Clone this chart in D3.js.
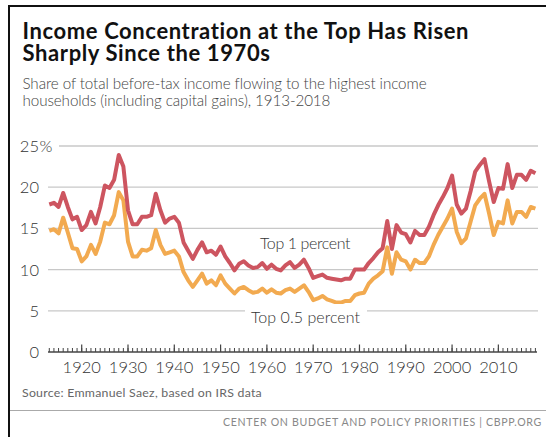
<!DOCTYPE html>
<html><head><meta charset="utf-8">
<script src="https://cdn.jsdelivr.net/npm/d3@7"></script>
<style>
html,body{margin:0;padding:0;background:#fff;}
svg{display:block;}
</style></head>
<body>
<script>
const years = d3.range(1913, 2019);
const top1 = [17.9,18.1,17.6,19.3,17.6,16.1,16.4,14.8,15.4,17.0,15.6,17.6,20.2,19.9,20.9,23.9,22.5,
  17.2,15.5,15.5,16.4,16.4,16.6,19.2,17.2,15.7,16.2,
  16.4,15.7,13.3,12.3,11.3,12.4,13.3,12.1,12.3,11.8,
  12.8,11.6,10.8,9.9,10.7,11.0,10.5,10.2,10.3,10.8,
  10.1,10.6,10.1,9.9,10.5,10.9,10.2,10.6,11.2,10.2,
  9.0,9.2,9.4,9.0,8.9,8.8,8.7,8.9,8.9,10.0,
  10.0,10.0,10.8,11.4,12.1,12.6,15.9,12.5,15.4,14.5,
  14.3,13.3,14.7,14.2,14.2,15.2,16.6,17.8,18.8,19.9,
  21.4,17.9,16.8,17.4,19.5,21.9,22.7,23.4,20.7,18.2,
  19.9,19.8,22.8,19.9,21.5,21.5,20.9,22.0,21.7];
const top05 = [14.7,14.9,14.4,16.3,14.5,12.6,12.5,11.0,11.6,13.0,11.9,13.4,15.7,15.5,16.6,19.4,18.4,
  13.4,11.6,11.6,12.4,12.3,12.6,14.8,13.0,11.9,12.1,
  12.3,11.6,9.7,8.7,7.9,8.7,9.5,8.3,8.7,8.1,
  9.3,8.3,7.7,7.1,7.7,7.9,7.5,7.2,7.3,7.7,
  7.2,7.6,7.2,7.1,7.5,7.7,7.3,7.7,8.1,7.3,
  6.3,6.5,6.8,6.4,6.2,6.0,6.0,6.2,6.2,6.9,
  7.1,7.2,8.3,8.9,9.3,9.8,12.7,9.5,12.1,11.2,
  11.0,10.0,11.2,10.8,10.8,11.6,13.0,14.2,15.2,16.2,
  17.4,14.6,13.2,13.8,15.8,17.8,18.6,19.2,16.8,14.2,
  15.8,15.6,18.4,15.6,17.0,17.0,16.4,17.6,17.4];
const yTicks = [0,5,10,15,20,25];
const xTicks = [1920,1930,1940,1950,1960,1970,1980,1990,2000,2010];
const seriesNames = ["Top 1 percent","Top 0.5 percent"];
const titleLines = ["Income Concentration at the Top Has Risen","Sharply Since the 1970s"];
const subtitleLines = ["Share of total before-tax income flowing to the highest income","households (including capital gains), 1913-2018"];
const sourceText = "Source: Emmanuel Saez, based on IRS data";
const footerText = "CENTER ON BUDGET AND POLICY PRIORITIES | CBPP.ORG";

const W = 546, H = 437;
const svg = d3.select("body").append("svg").attr("width", W).attr("height", H);
const FONT = "Lato, 'Open Sans', sans-serif";

function fitSpacing(sel, target) {
  const node = sel.node();
  const n = sel.text().length;
  const w = node.getComputedTextLength();
  sel.attr("letter-spacing", ((target - w) / n).toFixed(3));
}

// frame
svg.append("line").attr("x1",9).attr("x2",W).attr("y1",6).attr("y2",6).attr("stroke","#111").attr("stroke-width",2);
svg.append("line").attr("x1",9).attr("x2",9).attr("y1",5).attr("y2",H).attr("stroke","#111").attr("stroke-width",2);
svg.append("line").attr("x1",10).attr("x2",W).attr("y1",410.5).attr("y2",410.5).attr("stroke","#aaa").attr("stroke-width",1);

// titles
const tt = svg.append("text").attr("font-family",FONT).attr("font-weight",700).attr("font-size",22).attr("fill","#111");
const tsp = tt.selectAll("tspan").data(titleLines).join("tspan")
  .attr("x",22.5).attr("y",(d,i)=>38.5+i*22.7).text(d=>d);
{
  const w = tsp.nodes()[0].getComputedTextLength();
  tt.attr("letter-spacing", ((447 - w) / titleLines[0].length).toFixed(3));
}
const st = svg.append("text").attr("font-family",FONT).attr("font-weight",300).attr("font-size",15.2).attr("fill","#444");
const ssp = st.selectAll("tspan").data(subtitleLines).join("tspan")
  .attr("x",22.5).attr("y",(d,i)=>89+i*17).text(d=>d);
{
  const w = ssp.nodes()[0].getComputedTextLength();
  st.attr("letter-spacing", ((404 - w) / subtitleLines[0].length).toFixed(3));
}

const x = d3.scaleLinear().domain([1913,2018]).range([49.3,535.4]);
const y = d3.scaleLinear().domain([0,25]).range([352,146]);

// gridlines
svg.append("g").selectAll("line").data(yTicks.filter(d=>d>0)).join("line")
  .attr("x1",d=>d===25?59:48).attr("x2",538)
  .attr("y1",d=>y(d)).attr("y2",d=>y(d))
  .attr("stroke","#c8c8c8").attr("stroke-width",1.3);

// y labels
const yl = svg.append("g").attr("font-family",FONT).attr("font-weight",300).attr("font-size",16.5).attr("fill","#333");
yl.selectAll("text").data(yTicks).join("text")
  .attr("x",39).attr("y",d=>y(d)).attr("dy","0.36em").attr("text-anchor","end").text(d=>d);
yl.append("text").attr("x",39.5).attr("y",y(25)).attr("dy","0.36em").text("%");

// lines
const line = d3.line().x((d,i)=>x(years[i])).y(d=>y(d)).curve(d3.curveLinear);
svg.append("path").datum(top05).attr("d",line).attr("fill","none").attr("stroke","#f2aa50").attr("stroke-width",4).attr("stroke-linejoin","round");
svg.append("path").datum(top1).attr("d",line).attr("fill","none").attr("stroke","#cd5560").attr("stroke-width",4).attr("stroke-linejoin","round");

// x axis
const ax = svg.append("g").attr("transform",`translate(0,${y(0)})`);
ax.selectAll("line.minor").data(years).join("line").attr("class","minor")
  .attr("x1",d=>x(d)).attr("x2",d=>x(d)).attr("y1",-4).attr("y2",0).attr("stroke","#444").attr("stroke-width",1);
ax.selectAll("line.major").data(xTicks).join("line").attr("class","major")
  .attr("x1",d=>x(d)).attr("x2",d=>x(d)).attr("y1",-7.5).attr("y2",0).attr("stroke","#444").attr("stroke-width",1.2);
ax.append("line").attr("x1",48).attr("x2",537).attr("y1",0).attr("y2",0).attr("stroke","#444").attr("stroke-width",1.5);
ax.selectAll("text").data(xTicks).join("text")
  .attr("x",d=>x(d)).attr("y",21).attr("text-anchor","middle")
  .attr("font-family",FONT).attr("font-weight",300).attr("font-size",16.5).attr("fill","#333").text(d=>d);

// series labels
const lbl = svg.append("g").attr("font-family",FONT).attr("font-weight",300).attr("font-size",16).attr("fill","#333");
const l1 = lbl.append("text").attr("x",260).attr("y",248.5).text(seriesNames[0]);
fitSpacing(l1, 90);
lbl.append("rect").attr("x",245).attr("y",304).attr("width",122).attr("height",18).attr("fill","#fff");
const l2 = lbl.append("text").attr("x",251).attr("y",322.5).text(seriesNames[1]);
fitSpacing(l2, 109);

// source & footer
const src = svg.append("text").attr("x",22).attr("y",397).attr("font-family",FONT).attr("font-size",12.3).attr("fill","#666").text(sourceText);
fitSpacing(src, 240);
const ft = svg.append("text").attr("x",223).attr("y",426).attr("font-family",FONT).attr("font-size",10.6).attr("fill","#888").text(footerText);
fitSpacing(ft, 319);
</script>
</body></html>
